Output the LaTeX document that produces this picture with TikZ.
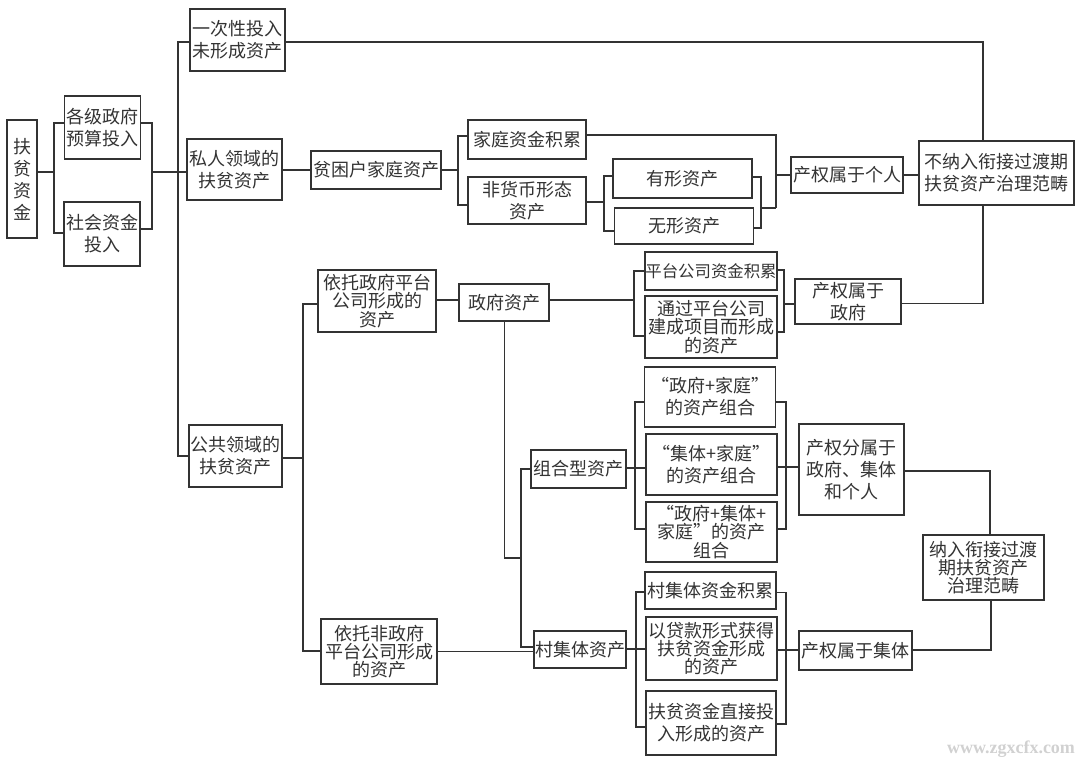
\documentclass[tikz,border=0pt]{standalone}
\usepackage{xcolor}
\usepackage{fontspec}
\setmainfont{Noto Sans CJK SC}
\newfontfamily\markfont{Liberation Serif}
\usepackage{tikz}
\definecolor{ink}{rgb}{0.2, 0.2, 0.2}
\tikzstyle{every path}=[line width=1.2pt]
\tikzstyle{box}=[draw,rectangle,inner sep=0pt,align=center,font=\fontsize{18}{22}\selectfont]
\tikzstyle{tight}=[box,font=\fontsize{18}{18.3}\selectfont]
\begin{document}
\begin{tikzpicture}[x=1pt,y=-1pt,color=ink]
\useasboundingbox (0,0) rectangle (1080,761);
% left column
\node[box,minimum width=30pt,minimum height=118pt] (fund) at (22,179) {扶\\贫\\资\\金};
\node[box,minimum width=76pt,minimum height=63pt] (gov) at (102.5,127.5) {各级政府\\预算投入};
\node[box,minimum width=76pt,minimum height=64pt] (soc) at (102,234) {社会资金\\投入};
\node[box,minimum width=95pt,minimum height=62pt] (once) at (237.5,40) {一次性投入\\未形成资产};
\node[box,minimum width=95pt,minimum height=61pt] (priv) at (234.5,169.5) {私人领域的\\扶贫资产};
\node[box,minimum width=93pt,minimum height=62pt] (pub) at (235.5,456) {公共领域的\\扶贫资产};
% private branch
\node[box,minimum width=130pt,minimum height=38pt] (poor) at (376,170) {贫困户家庭资产};
\node[box,minimum width=118pt,minimum height=39pt] (homefund) at (527,139.5) {家庭资金积累};
\node[box,minimum width=118pt,minimum height=47pt] (nonmoney) at (527,200.5) {非货币形态\\资产};
\node[box,minimum width=139pt,minimum height=39pt] (tangible) at (682.5,178.5) {有形资产};
\node[box,minimum width=139pt,minimum height=36pt] (intangible) at (684,226) {无形资产};
\node[box,minimum width=112pt,minimum height=36pt] (propperson) at (847,175) {产权属于个人};
\node[box,minimum width=155pt,minimum height=64pt] (notinc) at (996.5,173) {不纳入衔接过渡期\\扶贫资产治理范畴};
% public branch
\node[tight,minimum width=118pt,minimum height=62pt] (platform) at (377,301) {依托政府平台\\公司形成的\\资产};
\node[tight,minimum width=116pt,minimum height=65pt] (nonplat) at (379,651.5) {依托非政府\\平台公司形成\\的资产};
\node[box,minimum width=90pt,minimum height=37pt] (govasset) at (504,302.5) {政府资产};
\node[box,minimum width=132pt,minimum height=38pt,font=\fontsize{16.4}{20}\selectfont] (platfund) at (711,271) {平台公司资金积累};
\node[tight,minimum width=132pt,minimum height=62pt] (build) at (711,327) {通过平台公司\\建成项目而形成\\的资产};
\node[box,minimum width=106pt,minimum height=45pt] (propgov) at (848,301.5) {产权属于\\政府};
\node[box,minimum width=95pt,minimum height=38pt] (combo) at (578.5,469) {组合型资产};
\node[box,minimum width=131pt,minimum height=60pt] (comboa) at (710,397) {“政府+家庭”\\的资产组合};
\node[box,minimum width=131pt,minimum height=61pt] (combob) at (711.5,464.5) {“集体+家庭”\\的资产组合};
\node[tight,minimum width=131pt,minimum height=60pt] (comboc) at (711.5,532) {“政府+集体+\\家庭”的资产\\组合};
\node[box,minimum width=105pt,minimum height=91pt] (propsplit) at (851.5,469.5) {产权分属于\\政府、集体\\和个人};
\node[tight,minimum width=121pt,minimum height=65pt] (inc) at (983.5,567.5) {纳入衔接过渡\\期扶贫资产\\治理范畴};
\node[box,minimum width=92pt,minimum height=37pt] (village) at (580,649.5) {村集体资产};
\node[box,minimum width=131pt,minimum height=37pt] (vfund) at (710.5,590.5) {村集体资金积累};
\node[tight,minimum width=131pt,minimum height=63pt] (loan) at (711.5,648.5) {以贷款形式获得\\扶贫资金形成\\的资产};
\node[box,minimum width=130pt,minimum height=64pt] (direct) at (711,723) {扶贫资金直接投\\入形成的资产};
\node[box,minimum width=113pt,minimum height=39pt] (propvillage) at (855.5,650.5) {产权属于集体};
% watermark
\node[inner sep=0pt,text=black!18,font=\fontsize{18}{18}\markfont\bfseries] (mark) at (1011,749) {www.zgxcfx.com};
% junctions
\coordinate (fa) at (54,123); \coordinate (fb) at (54,172); \coordinate (fc) at (54,233);
\coordinate (ga) at (152,123); \coordinate (gb) at (152,172); \coordinate (gc) at (152,229);
\coordinate (ma) at (178,42); \coordinate (mb) at (178,456);
\coordinate (oa) at (983,42);
\coordinate (pa) at (458,136); \coordinate (pb) at (458,170); \coordinate (pc) at (458,205);
\coordinate (ha) at (776,135); \coordinate (hb) at (776,175); \coordinate (hc) at (776,208);
\coordinate (na) at (604,176); \coordinate (nb) at (604,202); \coordinate (nc) at (604,231);
\coordinate (ta) at (761,177); \coordinate (tb) at (761,208); \coordinate (tc) at (761,228);
\coordinate (ua) at (303,304); \coordinate (ub) at (303,458); \coordinate (uc) at (303,651);
\coordinate (va) at (634,271); \coordinate (vb) at (634,300); \coordinate (vc) at (634,336);
\coordinate (wa) at (784,270); \coordinate (wb) at (784,304); \coordinate (wc) at (784,332);
\coordinate (xa) at (983,303.5);
\coordinate (ya) at (504.5,558); \coordinate (yb) at (521,558); \coordinate (yc) at (521,469); \coordinate (yd) at (521,647);
\coordinate (za) at (635,402); \coordinate (zb) at (635,468); \coordinate (zc) at (635,529);
\coordinate (aa) at (786,402); \coordinate (ab) at (786,467); \coordinate (ac) at (786,529);
\coordinate (ba) at (990,471);
\coordinate (ca) at (636,592); \coordinate (cb) at (636,649); \coordinate (cc) at (636,727);
\coordinate (da) at (786,592.5); \coordinate (db) at (786,650); \coordinate (dc) at (786,724);
\coordinate (ea) at (991,650);
% left connectors
\draw (fund.east |- fb) -- (fb);
\draw (gov.west |- fa) -- (fa) -- (fc) -- (soc.west |- fc);
\draw (gov.east |- ga) -- (ga) -- (gc) -- (soc.east |- gc);
\draw (gb) -- (priv.west |- gb);
\draw (once.west |- ma) -- (ma) -- (mb) -- (pub.west);
\draw (once.east |- oa) -- (oa) -- (notinc.north -| oa);
% private connectors
\draw (priv.east |- poor) -- (poor.west);
\draw (poor.east) -- (pb);
\draw (homefund.west |- pa) -- (pa) -- (pc) -- (nonmoney.west |- pc);
\draw (homefund.east |- ha) -- (ha) -- (hc);
\draw (nonmoney.east |- nb) -- (nb);
\draw (tangible.west |- na) -- (na) -- (nc) -- (intangible.west |- nc);
\draw (tangible.east |- ta) -- (ta) -- (tc) -- (intangible.east |- tc);
\draw (tb) -- (hc);
\draw (hb) -- (propperson.west);
\draw (propperson.east) -- (notinc.west |- propperson);
% public connectors
\draw (pub.east |- ub) -- (ub);
\draw (platform.west |- ua) -- (ua) -- (uc) -- (nonplat.west |- uc);
\draw (platform.east |- vb) -- (govasset.west |- vb);
\draw (govasset.east |- vb) -- (vb);
\draw (platfund.west |- va) -- (va) -- (vc) -- (build.west |- vc);
\draw (platfund.east |- wa) -- (wa) -- (wc) -- (build.east |- wc);
\draw (wb) -- (propgov.west |- wb);
\draw (propgov.east |- xa) -- (xa) -- (notinc.south -| xa);
\draw (govasset.south -| ya) -- (ya) -- (yb);
\draw (combo.west |- yc) -- (yc) -- (yd) -- (village.west |- yd);
\draw (nonplat.east) -- (village.west |- nonplat);
\draw (combo.east |- zb) -- (combob.west |- zb);
\draw (comboa.west |- za) -- (za) -- (zc) -- (comboc.west |- zc);
\draw (comboa.east |- aa) -- (aa) -- (ac) -- (comboc.east |- ac);
\draw (combob.east |- ab) -- (propsplit.west |- ab);
\draw (propsplit.east |- ba) -- (ba) -- (inc.north -| ba);
\draw (village.east |- cb) -- (loan.west |- cb);
\draw (vfund.west |- ca) -- (ca) -- (cc) -- (direct.west |- cc);
\draw (vfund.east |- da) -- (da) -- (dc) -- (direct.east |- dc);
\draw (loan.east |- db) -- (propvillage.west |- db);
\draw (propvillage.east |- ea) -- (ea) -- (inc.south -| ea);
\end{tikzpicture}
\end{document}
